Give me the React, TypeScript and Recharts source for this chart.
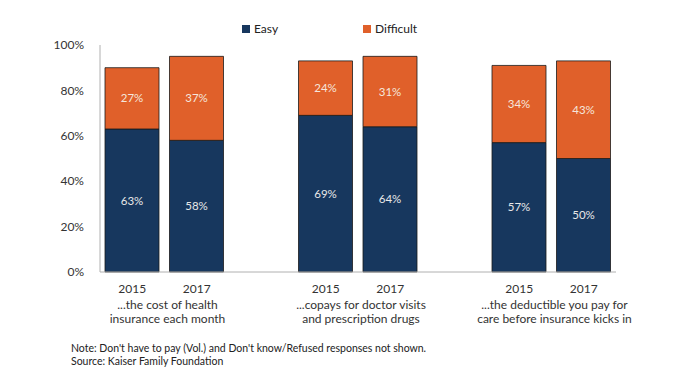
import { BarChart, Bar, XAxis, YAxis, LabelList } from 'recharts'

// one row per bar slot; empty slots keep the gaps between the three groups
const years = ['2015', '2017', '', '2015', '2017', '', '2015', '2017']
const easy = [63, 58, null, 69, 64, null, 57, 50]
const difficult = [27, 37, null, 24, 31, null, 34, 43]
const groupLabels = [
  ['...the cost of health', 'insurance each month'],
  ['...copays for doctor visits', 'and prescription drugs'],
  ['...the deductible you pay for', 'care before insurance kicks in'],
]
const yTicks = [0, 20, 40, 60, 80, 100]
const noteLines = [
  "Note: Don't have to pay (Vol.) and Don't know/Refused responses not shown.",
  'Source: Kaiser Family Foundation',
]

const NAVY = '#17375e'
const ORANGE = '#e0602a'
const FONT = 'Lato, "Open Sans", sans-serif'

const data = years.map((year, i) => ({
  slot: `s${i}`,
  year,
  easy: easy[i],
  difficult: difficult[i],
}))

const SLOT = 64.5

function YearTick(props: any) {
  const { x, y, index } = props
  const row = data[index]
  if (!row || !row.year) return null
  const group = Math.floor(index / 3)
  const first = index % 3 === 0
  return (
    <g>
      <text x={x} y={y + 19} textAnchor="middle" fontSize={12} fill="#333" fontFamily={FONT}>
        {row.year}
      </text>
      {first &&
        groupLabels[group].map((line, j) => (
          <text
            key={j}
            x={x + SLOT / 2 + 3}
            y={y + 35 + j * 14}
            textAnchor="middle"
            fontSize={12}
            fill="#333"
            fontFamily={FONT}
          >
            {line}
          </text>
        ))}
    </g>
  )
}

const pct = (v: any) => (v == null ? '' : `${v}%`)

export default function App() {
  return (
    <div style={{ position: 'absolute', left: 0, top: 0, width: 700, height: 379, background: '#fff', fontFamily: FONT }}>
      <BarChart
        width={700}
        height={379}
        data={data}
        margin={{ top: 45, right: 84, bottom: 0, left: 40 }}
        barCategoryGap={5}
      >
        <XAxis
          dataKey="slot"
          interval={0}
          height={107}
          tickLine={false}
          tickSize={0}
          tick={<YearTick />}
          axisLine={{ stroke: '#b0b0b0' }}
        />
        <YAxis
          width={60}
          domain={[0, 100]}
          ticks={yTicks}
          tickFormatter={(v) => `${v}%`}
          tickLine={false}
          axisLine={{ stroke: '#b0b0b0' }}
          tick={{ fill: '#333', fontSize: 12, fontFamily: FONT }}
          tickMargin={10}
        />
        <Bar dataKey="easy" stackId="a" fill={NAVY} stroke="#1a1a1a" strokeWidth={0.8} barSize={54} isAnimationActive={false}>
          <LabelList dataKey="easy" position="center" formatter={pct} fill="#e8e8e8" fontSize={11.5} fontFamily={FONT} />
        </Bar>
        <Bar dataKey="difficult" stackId="a" fill={ORANGE} stroke="#1a1a1a" strokeWidth={0.8} barSize={54} isAnimationActive={false}>
          <LabelList dataKey="difficult" position="center" formatter={pct} fill="#f5e6dc" fontSize={11.5} fontFamily={FONT} />
        </Bar>
      </BarChart>

      <div style={{ position: 'absolute', top: 21, left: 242, display: 'flex', alignItems: 'center', fontSize: 12, color: '#222' }}>
        <span style={{ width: 8, height: 8, background: NAVY, display: 'inline-block', marginRight: 4 }} />
        Easy
      </div>
      <div style={{ position: 'absolute', top: 21, left: 363, display: 'flex', alignItems: 'center', fontSize: 12, color: '#222' }}>
        <span style={{ width: 8, height: 8, background: ORANGE, display: 'inline-block', marginRight: 4 }} />
        Difficult
      </div>

      <div style={{ position: 'absolute', top: 342, left: 71, fontSize: 10.5, lineHeight: '13px', color: '#222' }}>
        {noteLines.map((l, i) => (
          <div key={i}>{l}</div>
        ))}
      </div>
    </div>
  )
}
